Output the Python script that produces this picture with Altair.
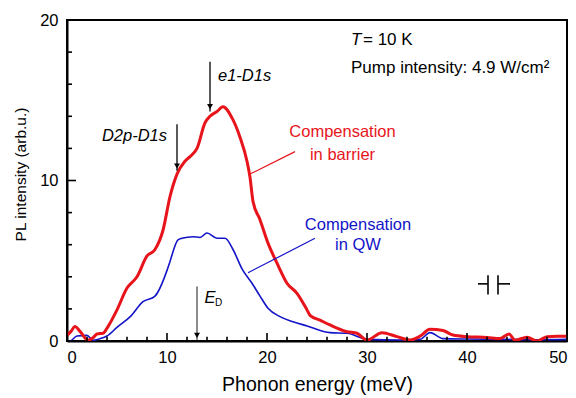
import altair as alt
import pandas as pd

# ---- data ----
red_x = [0, 0.4, 0.8, 1.3, 2.1, 2.6, 3.0, 3.6, 4.1, 5.0, 6.0, 7.0, 8.0, 8.8, 9.6, 10.3, 11.0,
         11.8, 12.5, 13.0, 13.8, 14.3, 15.0, 15.6, 16.5, 17.3, 18.0, 18.3, 18.6, 19.3, 20.1, 21.0,
         22.0, 23.0, 24.0, 24.3, 25.3, 26.3, 28.0, 29.0, 30.0, 31.5, 33.0, 34.3, 35.3, 36.3, 37.6,
         38.6, 40.0, 42.0, 43.3, 44.2, 44.8, 46.0, 47.0, 48.0, 49.0, 50.0]
red_y = [0.35, 0.6, 0.9, 0.6, 0.05, 0.2, 0.44, 0.48, 0.9, 1.94, 3.3, 4.0, 5.3, 5.7, 6.9, 9.0, 10.4,
         11.2, 11.6, 12.0, 13.6, 14.0, 14.3, 14.6, 13.9, 12.7, 11.2, 10.2, 8.7, 7.56, 6.1, 4.85,
         3.6, 2.97, 1.94, 1.6, 1.3, 1.0, 0.58, 0.48, 0.06, 0.52, 0.27, 0.06, 0.3, 0.73, 0.65,
         0.37, 0.27, 0.22, 0.15, 0.44, 0.05, 0.23, 0.0, 0.27, 0.3, 0.3]

blue_x = [0, 0.3, 1.0, 2.0, 2.6, 3.2, 4.0, 5.0, 6.3, 7.6, 8.8, 10.0, 10.3, 11.1, 11.5, 12.6, 13.3, 14.0,
          15.0, 15.8, 16.6, 17.5, 18.5, 19.3, 20.1, 21.3, 22.6, 24.0, 26.3, 28.0, 30.0, 33.3, 35.3,
          36.3, 37.6, 40.0, 44.0, 47.0, 50.0]
blue_y = [0.0, 0.0, 0.31, 0.35, 0.05, 0.12, 0.31, 0.85, 1.5, 2.45, 2.8, 4.4, 4.96, 6.3, 6.4, 6.5, 6.45, 6.73,
          6.4, 6.4, 5.7, 4.5, 3.6, 2.8, 2.04, 1.52, 1.2, 0.94, 0.52, 0.48, 0.1, 0.06, 0.1,
          0.52, 0.15, 0.12, 0.1, 0.08, 0.1]

x_labels = [0, 10, 20, 30, 40, 50]
y_labels = [0, 10, 20]
x_minor = [2, 4, 6, 8, 12, 14, 16, 18, 22, 24, 26, 28, 32, 34, 36, 38, 42, 44, 46, 48]
y_minor = [2, 4, 6, 8, 12, 14, 16, 18]

# annotation positions (data units)
arrow_x = [11.0, 14.3, 13.0]
arrow_top = [13.5, 17.4, 3.4]
arrow_tip = [10.6, 14.3, 0.05]
arrow_w = [1.3, 1.3, 0.9]

leader_color = ["#e8141b", "#1414c8"]
leader_x = [18.3, 18.1]
leader_y = [10.4, 4.25]
leader_x2 = [22.8, 24.8]
leader_y2 = [11.8, 6.4]

# break symbol segments
break_x = [42.1, 43.1, 41.1, 43.1]
break_x2 = [42.1, 43.1, 42.1, 44.3]
break_y = [4.1, 4.1, 3.56, 3.56]
break_y2 = [2.9, 2.9, 3.56, 3.56]

RED = "#e8141b"
BLUE = "#1414c8"
FONT = "Liberation Sans"

W, H = 500, 321
xs = alt.Scale(domain=[0, 50], nice=False)
ys = alt.Scale(domain=[0, 20], nice=False)

df_blue = pd.DataFrame({"x": blue_x, "y": blue_y})
df_red = pd.DataFrame({"x": red_x, "y": red_y})

blue_line = alt.Chart(df_blue).mark_line(
    color=BLUE, strokeWidth=1.6, interpolate="monotone", clip=True
).encode(
    x=alt.X("x:Q", scale=xs, axis=alt.Axis(
        values=x_labels, tickSize=0, labelFontSize=16.5, labelFont=FONT, labelColor="black",
        labelPadding=8, title="Phonon energy (meV)", titleFont=FONT, titleFontSize=19.5,
        titleFontWeight="normal", titleColor="black", titlePadding=10,
        domainColor="black", domainWidth=2, grid=False)),
    y=alt.Y("y:Q", scale=ys, axis=alt.Axis(
        values=y_labels, tickSize=0, labelFontSize=16.5, labelFont=FONT, labelColor="black",
        labelPadding=9, title="PL intensity (arb.u.)", titleFont=FONT, titleFontSize=15.5,
        titleFontWeight="normal", titleColor="black", titlePadding=11, titleY=154,
        domainColor="black", domainWidth=2, grid=False)),
)

red_line = alt.Chart(df_red).mark_line(
    color=RED, strokeWidth=3, interpolate="monotone", clip=True
).encode(x=alt.X("x:Q", scale=xs), y=alt.Y("y:Q", scale=ys))

# inward ticks as separate rule layers (lengths in data units)
xmaj = pd.DataFrame({"v": x_labels}); xmaj["a"] = 0.0; xmaj["b"] = 0.5
xmin = pd.DataFrame({"v": x_minor}); xmin["a"] = 0.0; xmin["b"] = 0.27
ymaj = pd.DataFrame({"v": y_labels}); ymaj["a"] = 0.0; ymaj["b"] = 0.9
ymin = pd.DataFrame({"v": y_minor}); ymin["a"] = 0.0; ymin["b"] = 0.5
xt_major = alt.Chart(xmaj).mark_rule(color="black", strokeWidth=1.6).encode(
    x=alt.X("v:Q", scale=xs), y=alt.Y("a:Q", scale=ys), y2="b:Q")
xt_minor = alt.Chart(xmin).mark_rule(color="black", strokeWidth=1.6).encode(
    x=alt.X("v:Q", scale=xs), y=alt.Y("a:Q", scale=ys), y2="b:Q")
yt_major = alt.Chart(ymaj).mark_rule(color="black", strokeWidth=1.6).encode(
    y=alt.Y("v:Q", scale=ys), x=alt.X("a:Q", scale=xs), x2="b:Q")
yt_minor = alt.Chart(ymin).mark_rule(color="black", strokeWidth=1.6).encode(
    y=alt.Y("v:Q", scale=ys), x=alt.X("a:Q", scale=xs), x2="b:Q")

# break symbol
bdf = pd.DataFrame({"sx": break_x, "sx2": break_x2, "sy": break_y, "sy2": break_y2})
brk = alt.Chart(bdf).mark_rule(color="black", strokeWidth=1.6).encode(
    x=alt.X("sx:Q", scale=xs), x2="sx2:Q", y=alt.Y("sy:Q", scale=ys), y2="sy2:Q")

# arrows
adf = pd.DataFrame({"ax": arrow_x, "ay1": arrow_top, "ay2": arrow_tip, "aw": arrow_w})
adf["ayh"] = adf["ay2"] + 0.3
arrow_shaft = alt.Chart(adf).mark_rule(color="black").encode(
    x=alt.X("ax:Q", scale=xs), y=alt.Y("ay1:Q", scale=ys), y2="ay2:Q",
    strokeWidth=alt.StrokeWidth("aw:Q", scale=None))
arrow_head = alt.Chart(adf).mark_point(shape="triangle-down", filled=True, color="black",
                                       size=35, opacity=1).encode(
    x=alt.X("ax:Q", scale=xs), y=alt.Y("ayh:Q", scale=ys))

# leader lines
ldf = pd.DataFrame({"lx": leader_x, "ly": leader_y, "lx2": leader_x2, "ly2": leader_y2, "lc": leader_color})
leaders = alt.Chart(ldf).mark_rule(strokeWidth=1.2).encode(
    x=alt.X("lx:Q", scale=xs), y=alt.Y("ly:Q", scale=ys), x2="lx2:Q", y2="ly2:Q",
    color=alt.Color("lc:N", scale=None))

def txt(t, x, y, color="black", size=16.5, align="left", style="normal", baseline="middle"):
    return alt.Chart(pd.DataFrame({"px": [x], "py": [y], "t": [t]})).mark_text(
        font=FONT, fontSize=size, color=color, align=align, baseline=baseline, fontStyle=style
    ).encode(x=alt.X("px:Q", scale=xs), y=alt.Y("py:Q", scale=ys), text="t:N")

texts = [
    txt("e1-D1s", 15.1, 16.5, style="italic"),
    txt("D2p-D1s", 10.0, 12.75, align="right", style="italic"),
    txt("E", 13.75, 2.7, style="italic"),
    txt("D", 14.8, 2.35, size=10),
    txt("T", 28.4, 18.75, style="italic", size=17),
    txt("= 10 K", 29.6, 18.75, size=17),
    txt("Pump intensity: 4.9 W/cm²", 28.4, 17.0, size=17),
    txt("Compensation", 27.55, 13.0, color=RED, align="center"),
    txt("in barrier", 27.55, 11.6, color=RED, align="center"),
    txt("Compensation", 29.1, 7.25, color=BLUE, align="center"),
    txt("in QW", 29.1, 6.0, color=BLUE, align="center"),
]

chart = alt.layer(
    blue_line, red_line, xt_major, xt_minor, yt_major, yt_minor,
    brk, arrow_shaft, arrow_head, leaders, *texts,
).properties(
    width=W, height=H,
    autosize=alt.AutoSizeParams(type="none"),
    padding={"left": 67, "top": 20, "right": 9, "bottom": 57},
    background="white",
).configure_view(stroke="black", strokeWidth=2)

chart.save("out.html", embed_options={"renderer": "svg", "actions": False})
